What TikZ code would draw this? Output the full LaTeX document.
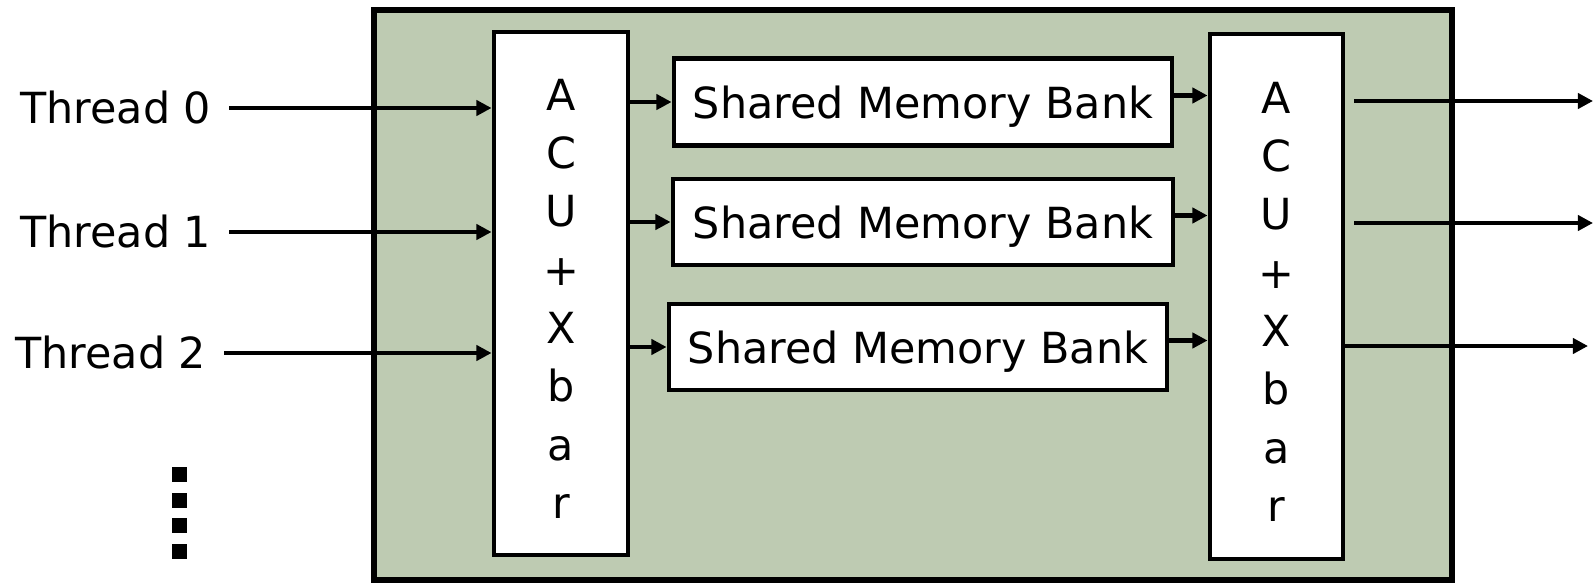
\documentclass[tikz,border=0pt]{standalone}
\usepackage{fontspec}
\setmainfont{DejaVu Sans}
\usetikzlibrary{arrows.meta}

\definecolor{chipgreen}{RGB}{190,203,178}

\begin{document}
\begin{tikzpicture}[>={Triangle[length=4.3pt,width=4.3pt]},
    font=\fontsize{12.2}{16.6}\selectfont]
      \useasboundingbox (0,0) rectangle (15.93,-5.83);

      % the chip
      \node[draw, fill=chipgreen, line width=1.5pt, inner sep=0,
        minimum width=10.78cm, minimum height=5.70cm] (chip) at (9.13,-2.95) {};

      \begin{scope}[every node/.style={draw, fill=white, line width=1.4pt, inner sep=0, text depth=0pt}]
        \node[minimum width=1.34cm, minimum height=5.23cm, align=center, text height=128pt] (acuL) at (5.61,-2.935) {A\\C\\U\\+\\X\\b\\a\\r};
        \node[minimum width=1.33cm, minimum height=5.25cm, align=center, text height=128pt] (acuR) at (12.765,-2.965) {A\\C\\U\\+\\X\\b\\a\\r};
        \node[minimum width=4.98cm, minimum height=0.865cm] (bank0) at (9.23,-1.02) {Shared Memory Bank};
        \node[minimum width=5.00cm, minimum height=0.86cm] (bank1) at (9.23,-2.22) {Shared Memory Bank};
        \node[minimum width=4.98cm, minimum height=0.86cm] (bank2) at (9.18,-3.47) {Shared Memory Bank};
      \end{scope}

      \begin{scope}[every node/.style={inner xsep=0.17cm, inner ysep=0, anchor=east}]
        \node (t0) at (2.29,-1.08) {Thread 0};
        \node (t1) at (2.29,-2.32) {Thread 1};
        \node (t2) at (2.24,-3.53) {Thread 2};
      \end{scope}

      \coordinate (o0) at (15.93,-1.01);
      \coordinate (o1) at (15.93,-2.23);
      \coordinate (o2) at (15.88,-3.46);

      % more threads
      \foreach \i in {0,...,3}
        \fill (1.72,-4.67-0.257*\i) rectangle ++(0.15,-0.15);

      \begin{scope}[every edge/.style={draw=black, line width=1.4pt}]
        \path [->] (t0.east) edge (t0.east -| acuL.west);
        \path [->] (t1.east) edge (t1.east -| acuL.west);
        \path [->] (t2.east) edge (t2.east -| acuL.west);

        \path [->] (bank0.west -| acuL.east) edge (bank0.west);
        \path [->] (bank1.west -| acuL.east) edge (bank1.west);
        \path [->] (bank2.west -| acuL.east) edge (bank2.west);

        \path [->] ([yshift=0.065cm]bank0.east) edge ([yshift=0.065cm]bank0.east -| acuR.west);
        \path [->] ([yshift=0.065cm]bank1.east) edge ([yshift=0.065cm]bank1.east -| acuR.west);
        \path [->] ([yshift=0.065cm]bank2.east) edge ([yshift=0.065cm]bank2.east -| acuR.west);

        \path [->] ([xshift=0.09cm]o0 -| acuR.east) edge (o0);
        \path [->] ([xshift=0.09cm]o1 -| acuR.east) edge (o1);
        \path [->] (o2 -| acuR.east) edge (o2);
      \end{scope}
    \end{tikzpicture}
\end{document}
